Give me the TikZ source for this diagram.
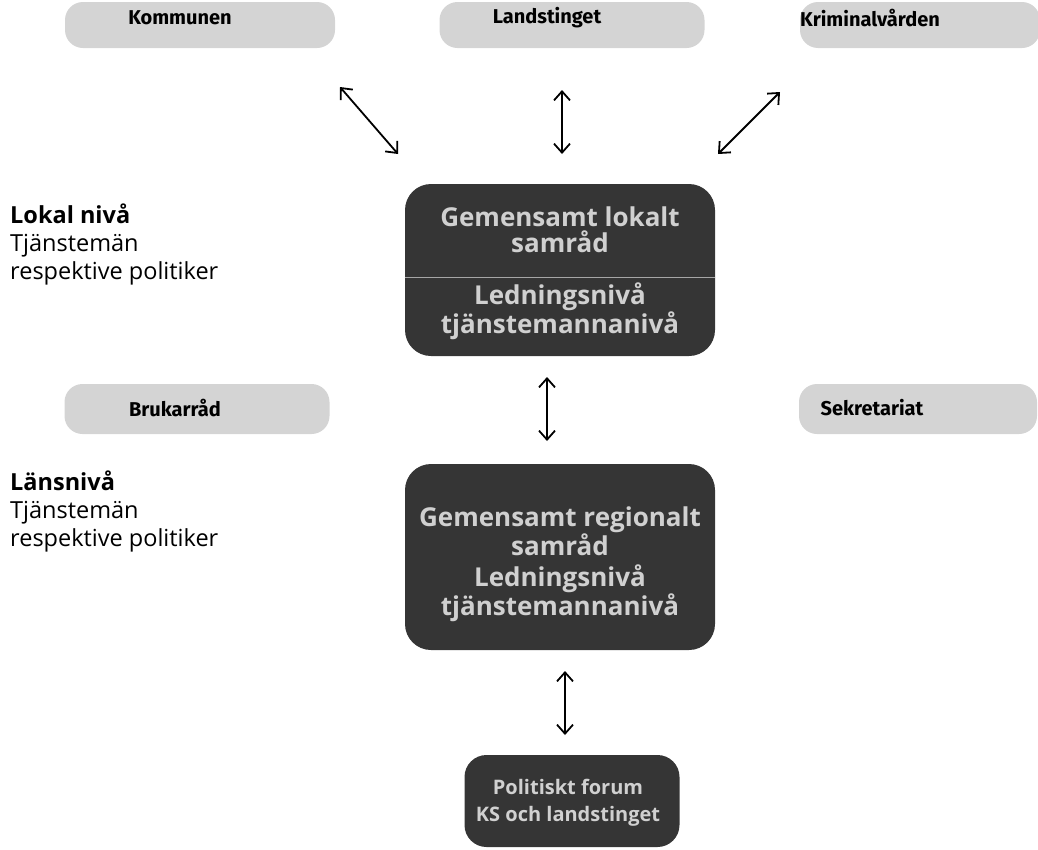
\documentclass[tikz,border=0pt]{standalone}
\usepackage{fontspec}
\setmainfont{Open Sans}
\newfontfamily\boxfont{Fira Sans}
\usetikzlibrary{arrows.meta}
\definecolor{lightfill}{HTML}{D4D4D4}
\definecolor{darkfill}{HTML}{353535}
\definecolor{darktext}{HTML}{D0D0D0}
\tikzset{
  lightbox/.style={fill=lightfill, draw=none, rounded corners=18pt, inner sep=0pt},
  darkbox/.style={fill=darkfill, draw=none, rounded corners=26pt, inner sep=0pt},
  lightlabel/.style={font=\boxfont\bfseries\fontsize{20}{24}\selectfont, text=black, inner sep=0pt},
  darklabel/.style={font=\fontsize{26}{26}\selectfont\bfseries, text=darktext, align=center, inner sep=0pt},
  smalldark/.style={font=\fontsize{20}{27}\selectfont\bfseries, text=darktext, align=center, inner sep=0pt},
  sidelabel/.style={font=\fontsize{23.5}{28}\selectfont, align=left, anchor=north west, inner sep=0pt},
  link/.style={line width=1.8pt, {Straight Barb[length=9pt,width=16pt]}-{Straight Barb[length=9pt,width=16pt]}}
}
\begin{document}
\begin{tikzpicture}[x=1pt,y=-1pt]
\useasboundingbox (0,0) rectangle (1038,849);
% top light boxes
\node[lightbox, minimum width=270pt, minimum height=46pt] (kom) at (200,25) {};
\node[lightlabel] (komt) at (180,18) {Kommunen};
\node[lightbox, minimum width=265pt, minimum height=46pt] (lan) at (572,25) {};
\node[lightlabel] (lant) at (547,18) {Landstinget};
\node[lightbox, minimum width=240pt, minimum height=46pt] (kri) at (920,25) {};
\node[lightlabel] (krit) at (870,18) {Kriminalvården};
% middle light boxes
\node[lightbox, minimum width=265pt, minimum height=50pt] (bru) at (197,409) {};
\node[lightlabel] (brut) at (175,408) {Brukarråd};
\node[lightbox, minimum width=238pt, minimum height=50pt] (sek) at (918,409) {};
\node[lightlabel] (sekt) at (872,408) {Sekretariat};
% dark boxes
\node[darkbox, minimum width=310pt, minimum height=172pt] (lok) at (560,270) {};
\draw[color=gray!70, line width=0.8pt] (lok.west |- 0,277) coordinate (sepl) -- (lok.east |- 0,277) coordinate (sepr);
\node[darklabel] (lokt1) at (560,230) {Gemensamt lokalt\\samråd};
\node[darklabel] (lokt2) at (560,311) {Ledningsnivå\\tjänstemannanivå};
\node[darkbox, minimum width=310pt, minimum height=186pt] (reg) at (560,557) {};
\node[darklabel] (regt1) at (560,531) {Gemensamt regionalt\\samråd};
\node[darklabel] (regt2) at (560,593) {Ledningsnivå\\tjänstemannanivå};
\node[darkbox, minimum width=215pt, minimum height=92pt, rounded corners=22pt] (pol) at (572,801) {};
\node[smalldark] (polt) at (568,803) {Politiskt forum\\KS och landstinget};
% side labels
\node[sidelabel] (lokal) at (10,204) {\textbf{Lokal nivå}\\Tjänstemän\\respektive politiker};
\node[sidelabel] (lans) at (10,471) {\textbf{Länsnivå}\\Tjänstemän\\respektive politiker};
% arrow endpoints
\coordinate (a1s) at (340,87);  \coordinate (a1e) at (398,154);
\coordinate (a2s) at (562,90);  \coordinate (a2e) at (562,154);
\coordinate (a3s) at (780,92);  \coordinate (a3e) at (718,154);
\coordinate (a4s) at (547,377); \coordinate (a4e) at (547,441);
\coordinate (a5s) at (565,671); \coordinate (a5e) at (565,735);
\draw[link] (a1s) -- (a1e);
\draw[link] (a2s) -- (a2e);
\draw[link] (a3s) -- (a3e);
\draw[link] (a4s) -- (a4e);
\draw[link] (a5s) -- (a5e);
\end{tikzpicture}
\end{document}
